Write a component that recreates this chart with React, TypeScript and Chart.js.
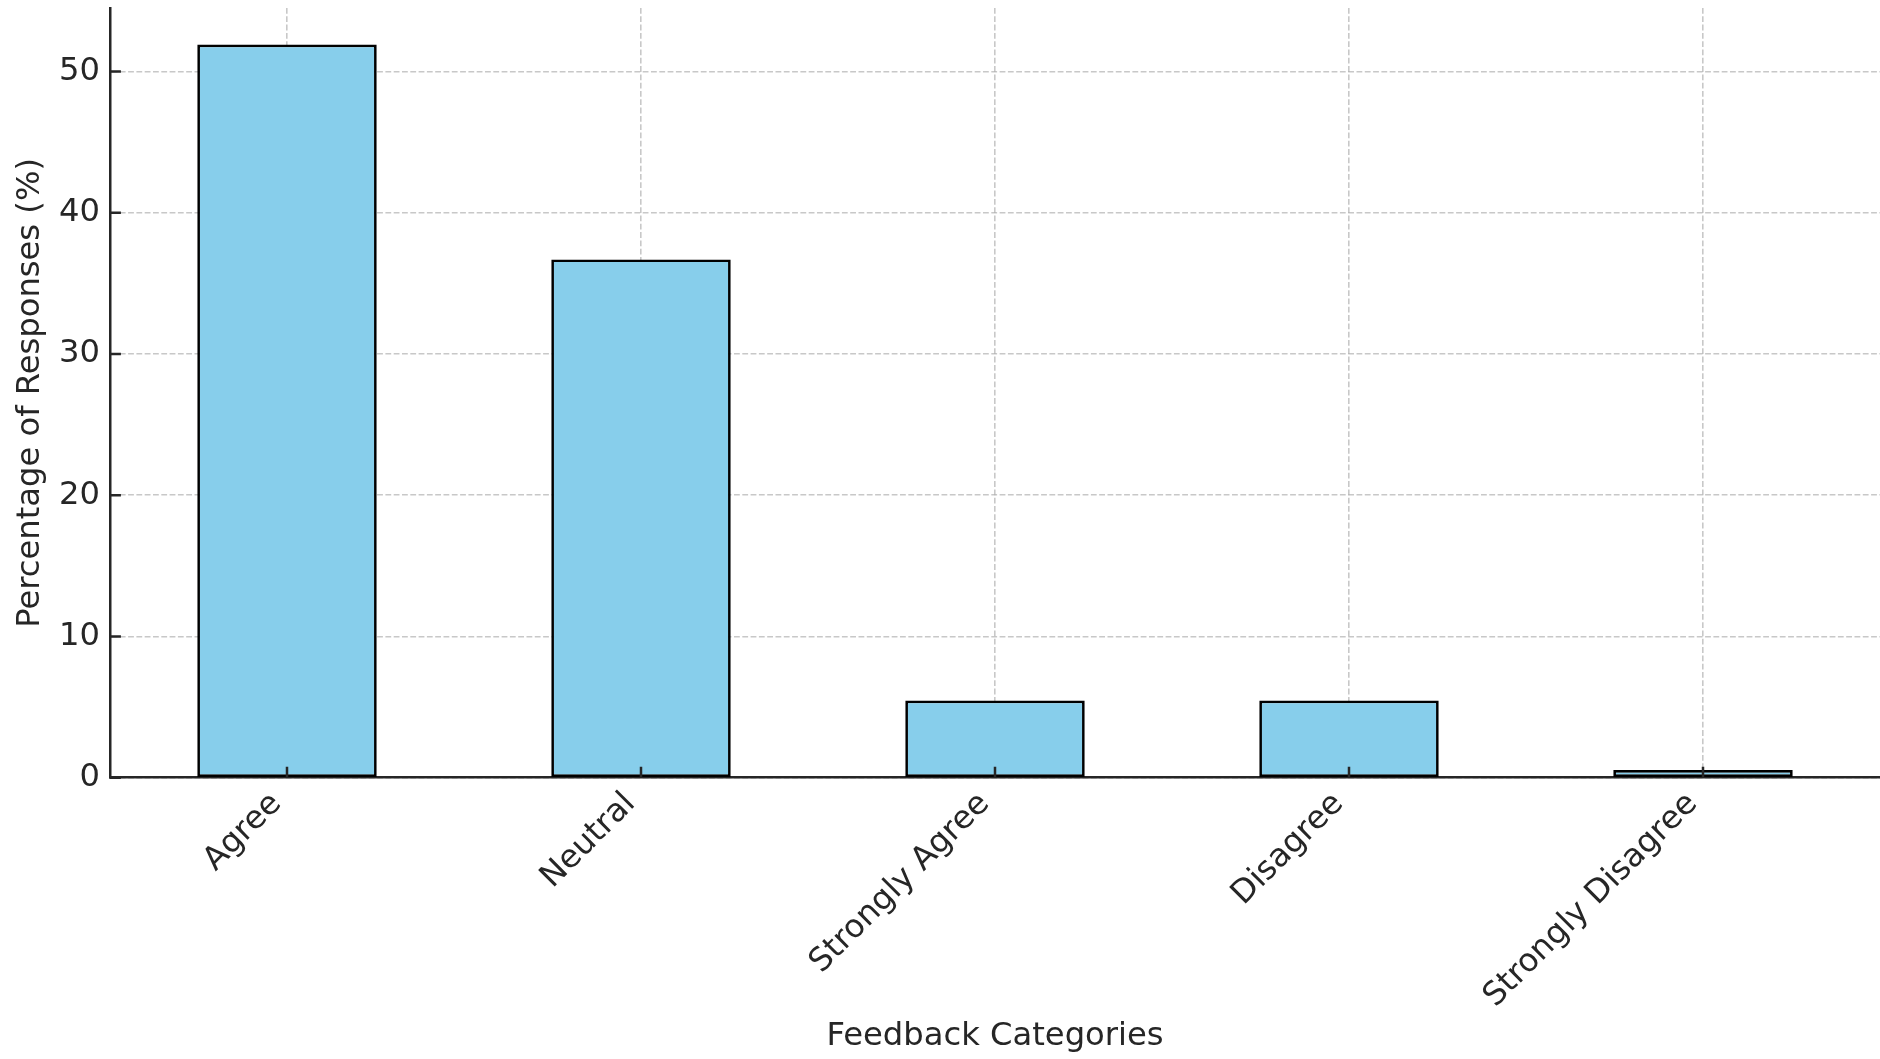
import React, { useEffect, useRef } from "react";
import { Chart, registerables } from "chart.js";

Chart.register(...registerables);

const categories: string[] = ["Agree", "Neutral", "Strongly Agree", "Disagree", "Strongly Disagree"];
const percentages: number[] = [51.91, 36.7, 5.46, 5.46, 0.55];
const yTickValues: number[] = [0, 10, 20, 30, 40, 50];
const xTitle = "Feedback Categories";
const yTitle = "Percentage of Responses (%)";

const FONT = "'DejaVu Sans', 'Liberation Sans', sans-serif";
const TEXT = "#262626";
const AXIS = "#262626";
const TICK_LEN = 10.9;
const FS = 32.2;
const GRID_COLOR = "rgba(176,176,176,0.7)";
const GRID_DASH = [5.8, 2.5];

const inwardTicks = {
  id: "inwardTicks",
  afterDraw(chart: any) {
    const { ctx, chartArea, scales } = chart;
    const xs = scales.x;
    const ys = scales.y;
    ctx.save();
    ctx.strokeStyle = AXIS;
    ctx.lineWidth = 2.5;
    ctx.setLineDash([]);
    ctx.beginPath();
    ys.ticks.forEach((_t: any, i: number) => {
      const py = ys.getPixelForTick(i);
      ctx.moveTo(chartArea.left, py);
      ctx.lineTo(chartArea.left + TICK_LEN, py);
    });
    xs.ticks.forEach((_t: any, i: number) => {
      const px = xs.getPixelForTick(i);
      ctx.moveTo(px, chartArea.bottom);
      ctx.lineTo(px, chartArea.bottom - TICK_LEN);
    });
    ctx.stroke();
    ctx.restore();
  },
};

export default function App() {
  const ref = useRef<HTMLCanvasElement | null>(null);

  useEffect(() => {
    if (!ref.current) return;
    const chart = new Chart(ref.current, {
      type: "bar",
      data: {
        labels: categories,
        datasets: [
          {
            data: percentages,
            backgroundColor: "#87CEEB",
            borderColor: "#000000",
            borderWidth: 2.7,
            borderSkipped: false,
            barPercentage: 0.507,
            categoryPercentage: 1,
          },
        ],
      },
      options: {
        animation: false,
        responsive: true,
        maintainAspectRatio: false,
        layout: { padding: { top: 8, right: 0, left: 0, bottom: 0 } },
        plugins: {
          legend: { display: false },
          tooltip: { enabled: false },
        },
        scales: {
          x: {
            type: "category",
            offset: true,
            z: 1,
            afterFit: (s: any) => {
              s.height = 281.3;
              s.paddingLeft = 0;
              s.paddingRight = 0;
            },
            grid: {
              display: true,
              offset: false,
              drawTicks: false,
              color: GRID_COLOR,
              lineWidth: 1.6,
            },
            border: { display: true, color: AXIS, width: 2.5, dash: GRID_DASH },
            ticks: {
              autoSkip: false,
              maxRotation: 45,
              minRotation: 45,
              padding: 7.5,
              labelOffset: -10.5,
              color: TEXT,
              font: { family: FONT, size: FS, lineHeight: 1.2 },
            },
            title: {
              display: true,
              text: xTitle,
              color: TEXT,
              font: { family: FONT, size: FS, lineHeight: 1.2 },
              padding: { top: 0, bottom: 3 },
            },
          },
          y: {
            type: "linear",
            min: 0,
            max: 54.5,
            z: 1,
            afterFit: (s: any) => {
              s.width = 110;
              s.paddingTop = 0;
              s.paddingBottom = 0;
            },
            afterBuildTicks: (s: any) => {
              s.ticks = yTickValues.map((v) => ({ value: v }));
            },
            grid: {
              display: true,
              drawTicks: false,
              color: GRID_COLOR,
              lineWidth: 1.6,
            },
            border: { display: true, color: AXIS, width: 2.5, dash: GRID_DASH },
            ticks: {
              includeBounds: false,
              stepSize: 10,
              padding: 10,
              color: TEXT,
              font: { family: FONT, size: FS, lineHeight: 1.2 },
            },
            title: {
              display: true,
              text: yTitle,
              color: TEXT,
              font: { family: FONT, size: FS, lineHeight: 1.2 },
              padding: { top: 11.7, bottom: 0 },
            },
          },
        },
      },
      plugins: [inwardTicks],
    } as any);
    return () => chart.destroy();
  }, []);

  return (
    <div style={{ position: "fixed", left: 0, top: 0, width: 1880, height: 1059, background: "#ffffff" }}>
      <canvas ref={ref} />
    </div>
  );
}
